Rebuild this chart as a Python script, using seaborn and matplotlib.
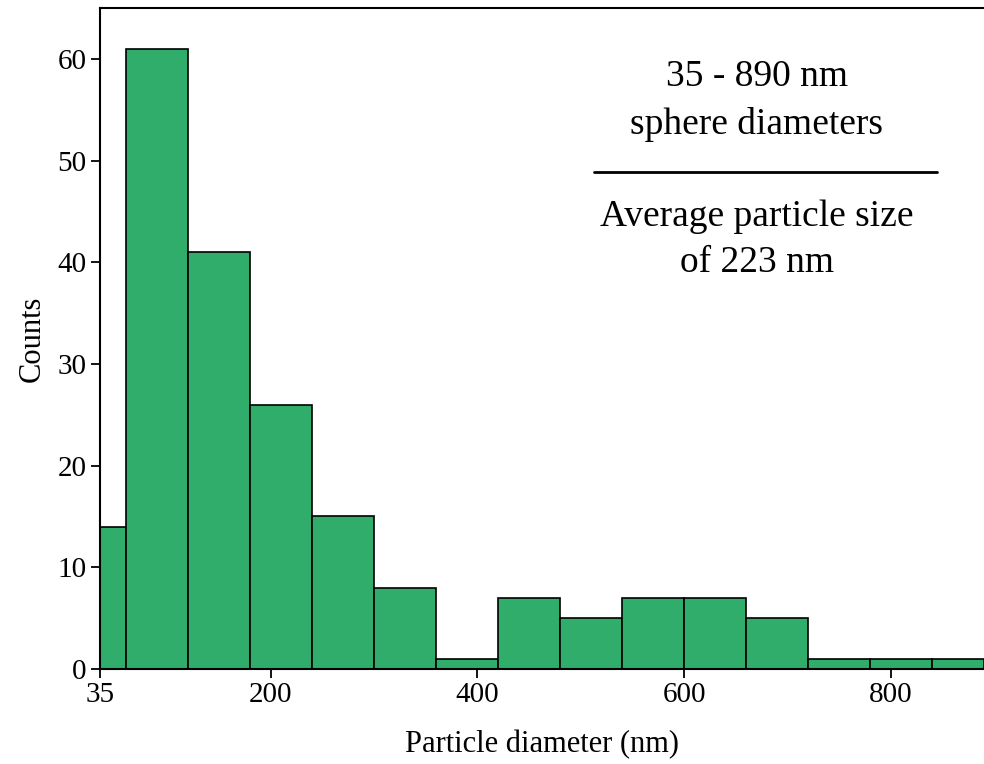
import numpy as np
import pandas as pd
import matplotlib
matplotlib.use("Agg")
import matplotlib.pyplot as plt
import seaborn as sns

bin_edges = [35, 60, 120, 180, 240, 300, 360, 420, 480, 540, 600, 660, 720, 780, 840, 890]
counts = [14, 61, 41, 26, 15, 8, 1, 7, 5, 7, 7, 5, 1, 1, 1]
x_ticks = [35, 200, 400, 600, 800]
y_ticks = [0, 10, 20, 30, 40, 50, 60]

sns.set_style("ticks")
plt.rcParams['font.family'] = ['Liberation Serif', 'DejaVu Serif']
plt.rcParams['text.color'] = 'black'
plt.rcParams['axes.labelcolor'] = 'black'

edges = np.array(bin_edges, dtype=float)
centers = (edges[:-1] + edges[1:]) / 2
df = pd.DataFrame({"diameter": centers, "count": counts})

fig = plt.figure(figsize=(9.84, 7.64), dpi=100)
ax = fig.add_axes([100/984, 1 - 669/764, 884/984, (669 - 8)/764])

sns.histplot(data=df, x="diameter", weights="count", bins=bin_edges,
             color="#31AD6B", alpha=1, edgecolor="black", linewidth=1.2, ax=ax)

ax.set_xlim(35, 890)
ax.set_ylim(0, 65)
ax.set_xticks(x_ticks)
ax.set_yticks(y_ticks)
ax.tick_params(axis="both", labelsize=21, direction="out", length=6.5, width=1.3,
               colors="black", pad=3)
ax.set_xlabel("Particle diameter (nm)", fontsize=22, labelpad=16)
ax.set_ylabel("Counts", fontsize=22, labelpad=8)
for s in ["left", "bottom", "top"]:
    ax.spines[s].set_linewidth(1.5)
    ax.spines[s].set_color("black")
ax.spines["right"].set_visible(False)

tx = 0.743
fs = 27
ax.text(tx, 0.896, "35 - 890 nm", transform=ax.transAxes, ha="center", va="center", fontsize=fs)
ax.text(tx, 0.823, "sphere diameters", transform=ax.transAxes, ha="center", va="center", fontsize=fs)
ax.plot([0.559, 0.947], [0.752, 0.752], transform=ax.transAxes, color="black", linewidth=2)
ax.text(tx, 0.684, "Average particle size", transform=ax.transAxes, ha="center", va="center", fontsize=fs)
ax.text(tx, 0.614, "of 223 nm", transform=ax.transAxes, ha="center", va="center", fontsize=fs)

fig.savefig("out.png", dpi=100)
